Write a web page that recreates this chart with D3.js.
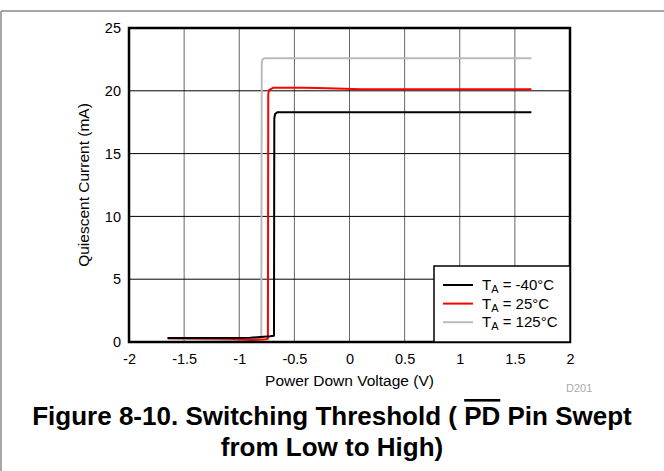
<!DOCTYPE html>
<html>
<head>
<meta charset="utf-8">
<script src="https://cdn.jsdelivr.net/npm/d3@7"></script>
<style>
  body { margin: 0; background: #fff; }
  text { font-family: "Liberation Sans", Arial, sans-serif; }
</style>
</head>
<body>
<div id="chart"></div>
<script>
var w = 664;
var h = 471;

// data
var xTicks = [-2, -1.5, -1, -0.5, 0, 0.5, 1, 1.5, 2];
var yTicks = [0, 5, 10, 15, 20, 25];

var vNeg40 = [-1.65, -1.2, -0.9, -0.72, -0.685, -0.682, -0.675, -0.655, 1.65];
var iNeg40 = [0.32, 0.32, 0.34, 0.45, 0.5, 17.8, 18.15, 18.3, 18.3];

var v25 = [-1.65, -1.1, -0.9, -0.76, -0.74, -0.737, -0.73, -0.69, -0.4, -0.2, 0.1, 1.65];
var i25 = [0.3, 0.25, 0.15, 0.22, 0.25, 19.7, 20.05, 20.25, 20.25, 20.2, 20.12, 20.12];

var v125 = [-1.65, -1.1, -0.9, -0.82, -0.8, -0.796, -0.79, -0.77, 1.65];
var i125 = [0.28, 0.15, 0.2, 0.3, 0.4, 22.1, 22.5, 22.6, 22.6];

var seriesNames = ["-40°C", "25°C", "125°C"];
var seriesColors = ["#000000", "#ff0000", "#bbbbbb"];

var svg = d3.select("#chart").append("svg").attr("width", w).attr("height", h);

// outer frame
svg.append("line").attr("x1", 1).attr("x2", w).attr("y1", 11).attr("y2", 11)
  .attr("stroke", "#888").attr("stroke-width", 1.5);
svg.append("line").attr("x1", 1).attr("x2", 1).attr("y1", 11).attr("y2", h)
  .attr("stroke", "#888").attr("stroke-width", 1.5);

var pLeft = 129, pRight = 570, pTop = 28, pBottom = 342;

var x = d3.scaleLinear().domain([-2, 2]).range([pLeft, pRight]);
var y = d3.scaleLinear().domain([0, 25]).range([pBottom, pTop]);

// grid
svg.selectAll(".vgrid").data(xTicks.slice(1, -1)).enter().append("line")
  .attr("x1", function(d){ return x(d); })
  .attr("x2", function(d){ return x(d); })
  .attr("y1", pTop).attr("y2", pBottom)
  .attr("stroke", "#666").attr("stroke-width", 1);
svg.selectAll(".hgrid").data(yTicks.slice(1, -1)).enter().append("line")
  .attr("x1", pLeft).attr("x2", pRight)
  .attr("y1", function(d){ return y(d); })
  .attr("y2", function(d){ return y(d); })
  .attr("stroke", "#000").attr("stroke-width", 1);

// axes (labels only)
var xAxis = svg.append("g").attr("transform", "translate(0," + pBottom + ")")
  .call(d3.axisBottom(x).tickValues(xTicks).tickSize(0).tickPadding(12).tickFormat(String));
var yAxis = svg.append("g").attr("transform", "translate(" + pLeft + ",0)")
  .call(d3.axisLeft(y).tickValues(yTicks).tickSize(0).tickPadding(8).tickFormat(String));
[xAxis, yAxis].forEach(function(g){
  g.select(".domain").remove();
  g.selectAll("text").attr("font-family", "Liberation Sans, Arial, sans-serif")
    .attr("font-size", "14.5px").attr("fill", "#000");
});

// lines
var line = d3.line()
  .x(function(d){ return x(d[0]); })
  .y(function(d){ return y(d[1]); });

var series = [
  d3.zip(vNeg40, iNeg40),
  d3.zip(v25, i25),
  d3.zip(v125, i125)
];

[2, 1, 0].forEach(function(k){
  svg.append("path").datum(series[k])
    .attr("d", line)
    .attr("fill", "none")
    .attr("stroke", seriesColors[k])
    .attr("stroke-width", 2)
    .attr("stroke-linejoin", "round");
});

// plot frame
svg.append("rect").attr("x", pLeft).attr("y", pTop)
  .attr("width", pRight - pLeft).attr("height", pBottom - pTop)
  .attr("fill", "none").attr("stroke", "#000").attr("stroke-width", 2.5);

// legend
var lg = svg.append("g");
lg.append("rect").attr("x", 434).attr("y", 266).attr("width", pRight - 434).attr("height", pBottom - 266)
  .attr("fill", "#fff").attr("stroke", "#000").attr("stroke-width", 1.5);
seriesNames.forEach(function(name, i){
  var ly = 285 + i * 18.6;
  lg.append("line").attr("x1", 443).attr("x2", 473).attr("y1", ly).attr("y2", ly)
    .attr("stroke", seriesColors[i]).attr("stroke-width", 2);
  var t = lg.append("text").attr("x", 482).attr("y", ly + 5).attr("font-size", "15px");
  t.append("tspan").text("T");
  t.append("tspan").attr("font-size", "11px").attr("dy", 3).text("A");
  t.append("tspan").attr("dy", -3).text(" = " + name);
});

// axis titles
svg.append("text").attr("x", (pLeft + pRight) / 2).attr("y", 386)
  .attr("text-anchor", "middle").attr("font-size", "15.5px")
  .text("Power Down Voltage (V)");
svg.append("text")
  .attr("transform", "translate(89," + (pTop + pBottom) / 2 + ") rotate(-90)")
  .attr("text-anchor", "middle").attr("font-size", "15.5px")
  .text("Quiescent Current (mA)");

svg.append("text").attr("x", 566).attr("y", 392).attr("font-size", "11px")
  .attr("fill", "#aaa").text("D201");

// caption
var cap = svg.append("text").attr("x", 332).attr("y", 425)
  .attr("text-anchor", "middle").attr("font-size", "26px").attr("font-weight", "bold");
cap.append("tspan").text("Figure 8-10. Switching Threshold ( ");
cap.append("tspan").attr("text-decoration", "overline").text("PD");
cap.append("tspan").text(" Pin Swept");
svg.append("text").attr("x", 332).attr("y", 456)
  .attr("text-anchor", "middle").attr("font-size", "26px").attr("font-weight", "bold")
  .text("from Low to High)");
</script>
</body>
</html>
